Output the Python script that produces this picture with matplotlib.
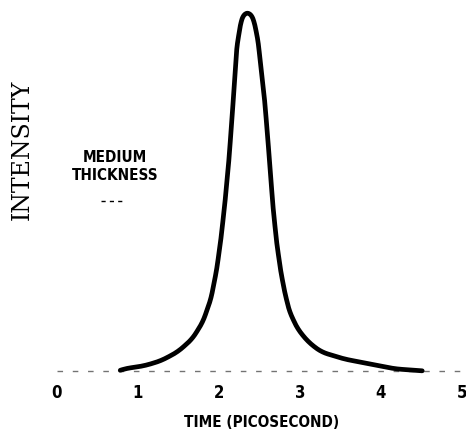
#-----Medium thickness pulse, intensity vs time-----#
import matplotlib
matplotlib.use('Agg')
import matplotlib.pyplot as plt
import numpy as np

#-----Values-----#
time_ps = [0.76, 0.82, 1.07, 1.28, 1.49, 1.67, 1.80, 1.90, 1.97, 2.02,
           2.07, 2.12, 2.16, 2.19, 2.22, 2.27, 2.31, 2.35, 2.39, 2.43,
           2.48, 2.52, 2.56, 2.59, 2.625, 2.665, 2.71, 2.76, 2.81, 2.87,
           2.97, 3.10, 3.26, 3.55, 3.88, 4.17, 4.54]
intensity = [0.0, 0.006, 0.014, 0.028, 0.053, 0.089, 0.136, 0.200, 0.280, 0.360,
             0.460, 0.580, 0.700, 0.800, 0.900, 0.970, 0.995, 1.0, 0.995, 0.975,
             0.920, 0.840, 0.760, 0.680, 0.580, 0.460, 0.360, 0.280, 0.220, 0.165,
             0.117, 0.081, 0.053, 0.033, 0.019, 0.006, 0.0]
ticks = [0, 1, 2, 3, 4, 5]

bold_font = ['Liberation Sans Narrow', 'DejaVu Sans']

fig = plt.figure(figsize=(4.66, 4.31), dpi=100)
ax = fig.add_axes([57/466, 59/431, 405/466, 360/431])

#-----smooth the traced line along its length (pixel-ish units)-----#
px = np.array(time_ps) * 81.0
py = np.array(intensity) * 360.0
seg = np.hypot(np.diff(px), np.diff(py))
s = np.concatenate([[0], np.cumsum(seg)])
ss = np.arange(0, s[-1], 1.0)
rx = np.interp(ss, s, px)
ry = np.interp(ss, s, py)
w = 15
k = np.ones(w) / w
rx = np.convolve(np.pad(rx, w // 2, mode='edge'), k, mode='valid')
ry = np.convolve(np.pad(ry, w // 2, mode='edge'), k, mode='valid')
ax.plot(rx / 81.0, ry / 360.0, color='black', lw=3.4,
        solid_capstyle='round', solid_joinstyle='round', clip_on=False)

ax.set_xlim(0, 5)
ax.set_ylim(0, 1)
for sp in ax.spines.values():
    sp.set_visible(False)
ax.axhline(0, color='black', lw=1.0, ls=(0, (4, 7)), alpha=0.55, clip_on=False)

ax.set_xticks(ticks)
ax.set_xticklabels([str(v) for v in ticks], family=bold_font, weight='bold',
                   fontsize=12, fontstretch='condensed')
ax.tick_params(axis='x', length=0, pad=9)
ax.set_yticks([])

fig.text(262/466, 1 - 423/431, 'TIME (PICOSECOND)', ha='center', va='center',
         family=bold_font, weight='bold', fontsize=11, fontstretch='condensed')

fig.text(22/466, 1 - 150/431, 'INTENSITY', rotation=90, ha='center', va='center',
         family=['DejaVu Serif'], fontsize=17)

fig.text(115/466, 1 - 167/431, 'MEDIUM\nTHICKNESS', ha='center', va='center',
         family=bold_font, weight='bold', fontsize=11, fontstretch='condensed',
         linespacing=1.25)
fig.lines.append(plt.Line2D([101/466, 125/466], [1 - 202/431] * 2, color='black',
                            lw=1, ls=(0, (3, 3)), transform=fig.transFigure))

fig.savefig('out.png', dpi=100)
